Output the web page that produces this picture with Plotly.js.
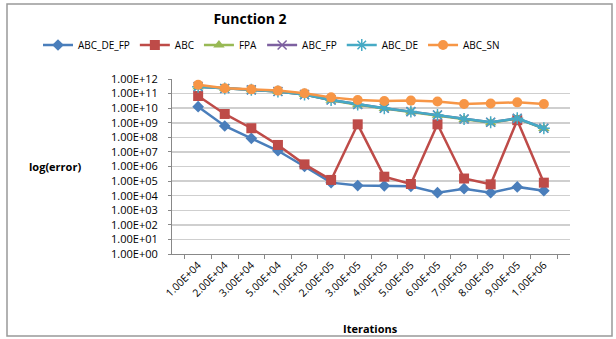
<!DOCTYPE html>
<html>
<head>
<meta charset="utf-8">
<script src="https://cdn.plot.ly/plotly-3.0.1.min.js"></script>
<style>html,body{margin:0;padding:0;background:#fff;}#chart{width:616px;height:339px;}</style>
</head>
<body>
<div id="chart"></div>
<script>
var iterations = ["1.00E+04","2.00E+04","3.00E+04","5.00E+04","1.00E+05","2.00E+05","3.00E+05","4.00E+05","5.00E+05","6.00E+05","7.00E+05","8.00E+05","9.00E+05","1.00E+06"];
var abcDeFp = [1.26e10, 6e8, 8.5e7, 1.2e7, 1e6, 7.8e4, 4.9e4, 4.7e4, 4.4e4, 1.6e4, 3e4, 1.6e4, 4e4, 2.2e4];
var abc     = [6.8e10, 4e9, 4.2e8, 3e7, 1.4e6, 1.2e5, 7.8e8, 2e5, 6.3e4, 7.8e8, 1.5e5, 6e4, 1.5e9, 7.8e4];
var fpa     = [3e11, 2.2e11, 1.8e11, 1.4e11, 8.5e10, 3.5e10, 1.7e10, 9.5e9, 5.5e9, 3.3e9, 1.7e9, 1.0e9, 1.9e9, 4.0e8];
var abcFp   = [3e11, 2.2e11, 1.8e11, 1.4e11, 8.5e10, 3.6e10, 1.8e10, 1e10, 5.8e9, 3.4e9, 1.8e9, 1.07e9, 2e9, 4.2e8];
var abcDe   = [3e11, 2.2e11, 1.8e11, 1.4e11, 8.5e10, 3.6e10, 1.8e10, 1e10, 5.8e9, 3.4e9, 1.8e9, 1.07e9, 2e9, 4.2e8];
var abcSn   = [4e11, 2.3e11, 1.95e11, 1.6e11, 1.05e11, 5.5e10, 3.6e10, 3.1e10, 3.3e10, 2.9e10, 1.95e10, 2.1e10, 2.5e10, 1.95e10];
var yTickVals = [1e0,1e1,1e2,1e3,1e4,1e5,1e6,1e7,1e8,1e9,1e10,1e11,1e12];
var yTickText = ["1.00E+00","1.00E+01","1.00E+02","1.00E+03","1.00E+04","1.00E+05","1.00E+06","1.00E+07","1.00E+08","1.00E+09","1.00E+10","1.00E+11","1.00E+12"];

function tr(name, y, color, symbol, size, extra) {
  var m = {color: color, symbol: symbol, size: size};
  if (extra) m.line = extra;
  return {x: iterations, y: y, name: name, type: 'scatter', mode: 'lines+markers',
    line: {color: color, width: 2.5}, marker: m};
}
var data = [
  tr('ABC_DE_FP', abcDeFp, '#4A7EBB', 'diamond', 9),
  tr('ABC', abc, '#BE4B48', 'square', 10),
  tr('FPA', fpa, '#98B954', 'triangle-up', 10),
  tr('ABC_FP', abcFp, '#7D60A0', 'x-thin-open', 9, {color: '#7D60A0', width: 1.5}),
  tr('ABC_DE', abcDe, '#46AAC5', 'asterisk-open', 10, {color: '#46AAC5', width: 1.5}),
  tr('ABC_SN', abcSn, '#F79646', 'circle', 10)
];
var font = "'Open Sans', 'Liberation Sans', sans-serif";
var W = 616, PH = 175;
var layout = {
  width: 616, height: 339,
  margin: {l: 0, r: 0, t: 79, b: 85},
  paper_bgcolor: '#fff', plot_bgcolor: '#fff',
  font: {family: font, size: 10, color: '#000'},
  title: {text: '<b>Function 2</b>', x: 250 / W, xanchor: 'center', xref: 'paper', y: 1 - 19 / 339, yref: 'container', yanchor: 'middle', font: {size: 14, family: font}},
  showlegend: true,
  legend: {orientation: 'h', x: 38 / W, xanchor: 'left', xref: 'paper', y: 1 - 45 / 339, yref: 'container', yanchor: 'middle', font: {size: 10, family: font}, itemwidth: 30, borderwidth: 0},
  xaxis: {type: 'category', domain: [172 / W, 570 / W], tickson: 'boundaries', ticks: 'outside', ticklen: 4, tickcolor: '#888',
    showline: true, linecolor: '#888', showgrid: false, tickangle: -45, tickfont: {size: 10.5}},
  yaxis: {type: 'log', range: [0, 12], tickvals: yTickVals, ticktext: yTickText, ticks: 'outside', ticklen: 3, tickcolor: '#888',
    ticklabelstandoff: 8,
    showline: true, linecolor: '#888', showgrid: true, gridcolor: '#cfcfcf', gridwidth: 1.5, zeroline: false, tickfont: {size: 11}},
  annotations: [
    {text: '<b>log(error)</b>', xref: 'paper', yref: 'paper', x: 55 / W, y: 0.5, xanchor: 'center', yanchor: 'middle', showarrow: false, font: {size: 11}},
    {text: '<b>Iterations</b>', xref: 'paper', yref: 'paper', x: 370 / W, y: (254 - 328) / PH, xanchor: 'center', yanchor: 'middle', showarrow: false, font: {size: 11}}
  ],
  shapes: [{type: 'rect', xref: 'paper', yref: 'paper', x0: 7 / W, x1: 612 / W, y0: (254 - 336) / PH, y1: (254 - 4) / PH, line: {color: '#999', width: 1.5}}]
};
Plotly.newPlot('chart', data, layout, {displayModeBar: false, staticPlot: true});
</script>
</body>
</html>
